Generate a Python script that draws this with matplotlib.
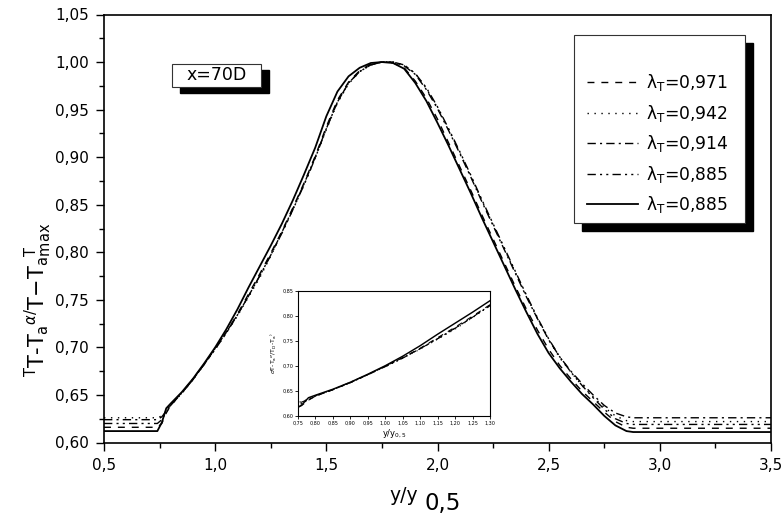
import matplotlib
matplotlib.use('Agg')
import matplotlib.pyplot as plt
from matplotlib.patches import Rectangle

plt.rcParams['font.family'] = ['DejaVu Sans']
plt.rcParams['mathtext.fontset'] = 'dejavusans'

# data
y_pos = [0.50, 0.74, 0.76, 0.78, 0.80, 0.85, 0.90, 0.95, 1.00, 1.05,
         1.10, 1.15, 1.20, 1.25, 1.30, 1.35, 1.40, 1.45, 1.50, 1.55,
         1.60, 1.65, 1.70, 1.75, 1.80, 1.85, 1.90, 1.95, 2.00, 2.05,
         2.10, 2.15, 2.20, 2.25, 2.30, 2.35, 2.40, 2.45, 2.50, 2.55,
         2.60, 2.65, 2.70, 2.75, 2.80, 2.85, 2.88, 2.92, 3.50]

t_0971 = [0.616, 0.616, 0.620, 0.631, 0.639, 0.652, 0.666, 0.682, 0.699, 0.716,
          0.735, 0.756, 0.777, 0.799, 0.822, 0.847, 0.873, 0.901, 0.932, 0.960,
          0.979, 0.991, 0.998, 1.000, 0.999, 0.994, 0.980, 0.962, 0.940, 0.915,
          0.890, 0.865, 0.839, 0.814, 0.789, 0.764, 0.740, 0.718, 0.698, 0.681,
          0.667, 0.654, 0.643, 0.632, 0.622, 0.616, 0.615, 0.615, 0.615]

t_0942 = [0.626, 0.626, 0.628, 0.633, 0.639, 0.652, 0.666, 0.682, 0.698, 0.715,
          0.733, 0.753, 0.773, 0.796, 0.820, 0.845, 0.871, 0.899, 0.929, 0.957,
          0.977, 0.990, 0.997, 1.000, 1.000, 0.997, 0.988, 0.972, 0.952, 0.929,
          0.905, 0.880, 0.854, 0.829, 0.804, 0.779, 0.754, 0.730, 0.708, 0.689,
          0.674, 0.660, 0.648, 0.637, 0.628, 0.623, 0.622, 0.622, 0.622]

t_0914 = [0.624, 0.624, 0.627, 0.633, 0.640, 0.652, 0.667, 0.682, 0.699, 0.716,
          0.734, 0.754, 0.775, 0.797, 0.821, 0.846, 0.872, 0.900, 0.930, 0.958,
          0.978, 0.990, 0.997, 1.000, 1.000, 0.996, 0.987, 0.971, 0.951, 0.928,
          0.904, 0.879, 0.853, 0.828, 0.803, 0.778, 0.753, 0.730, 0.708, 0.690,
          0.675, 0.662, 0.650, 0.639, 0.631, 0.627, 0.626, 0.626, 0.626]

t_0885a = [0.620, 0.620, 0.624, 0.632, 0.639, 0.652, 0.666, 0.682, 0.698, 0.715,
           0.734, 0.754, 0.775, 0.797, 0.820, 0.845, 0.871, 0.899, 0.930, 0.958,
           0.978, 0.990, 0.997, 1.000, 1.000, 0.997, 0.988, 0.973, 0.953, 0.930,
           0.906, 0.881, 0.855, 0.830, 0.805, 0.780, 0.755, 0.731, 0.709, 0.690,
           0.674, 0.660, 0.647, 0.635, 0.625, 0.620, 0.619, 0.619, 0.619]

t_0885b = [0.612, 0.612, 0.621, 0.636, 0.641, 0.653, 0.667, 0.683, 0.700, 0.719,
           0.740, 0.763, 0.785, 0.807, 0.830, 0.855, 0.882, 0.910, 0.943, 0.969,
           0.985, 0.994, 0.999, 1.000, 0.999, 0.993, 0.978, 0.959, 0.936, 0.912,
           0.887, 0.862, 0.836, 0.811, 0.786, 0.761, 0.737, 0.714, 0.694, 0.678,
           0.664, 0.651, 0.640, 0.628, 0.618, 0.612, 0.611, 0.611, 0.611]

series = [t_0971, t_0942, t_0914, t_0885a, t_0885b]
labels = ['λ$_\\mathrm{T}$=0,971', 'λ$_\\mathrm{T}$=0,942', 'λ$_\\mathrm{T}$=0,914',
          'λ$_\\mathrm{T}$=0,885', 'λ$_\\mathrm{T}$=0,885']
styles = [(0, (5, 5)), (0, (1, 4)), (0, (6, 3, 1.5, 3)),
          (0, (6, 3, 1.5, 3, 1.5, 3)), '-']
widths = [1.0, 1.0, 1.0, 1.0, 1.3]

x_ticks = [0.5, 1.0, 1.5, 2.0, 2.5, 3.0, 3.5]
x_ticklabels = ['0,5', '1,0', '1,5', '2,0', '2,5', '3,0', '3,5']
y_ticks = [0.60, 0.65, 0.70, 0.75, 0.80, 0.85, 0.90, 0.95, 1.00, 1.05]
y_ticklabels = ['0,60', '0,65', '0,70', '0,75', '0,80', '0,85', '0,90', '0,95', '1,00', '1,05']

in_x_ticks = [0.75, 0.80, 0.85, 0.90, 0.95, 1.00, 1.05, 1.10, 1.15, 1.20, 1.25, 1.30]
in_x_ticklabels = ['0,75', '0,80', '0,85', '0,90', '0,95', '1,00', '1,05', '1,10',
                   '1,15', '1,20', '1,25', '1,30']
in_y_ticks = [0.60, 0.65, 0.70, 0.75, 0.80, 0.85]
in_y_ticklabels = ['0,60', '0,65', '0,70', '0,75', '0,80', '0,85']

W, H = 784, 519
fig = plt.figure(figsize=(W / 100, H / 100), dpi=100)
ax = fig.add_axes([104 / W, 1 - 442.5 / H, (771 - 104) / W, (442.5 - 14.5) / H])

for ys, lab, ls, lw in zip(series, labels, styles, widths):
    ax.plot(y_pos, ys, color='black', linestyle=ls, linewidth=lw, label=lab)

ax.set_xlim(0.5, 3.5)
ax.set_ylim(0.60, 1.05)
ax.set_xticks(x_ticks)
ax.set_xticklabels(x_ticklabels)
ax.set_yticks(y_ticks)
ax.set_yticklabels(y_ticklabels)
ax.set_xticks([0.75, 1.25, 1.75, 2.25, 2.75, 3.25], minor=True)
ax.set_yticks([0.625, 0.675, 0.725, 0.775, 0.825, 0.875, 0.925, 0.975, 1.025], minor=True)
ax.tick_params(which='major', direction='out', length=6, width=1.0, labelsize=11, pad=5)
ax.tick_params(which='minor', direction='out', length=3.5, width=1.0)
for sp in ax.spines.values():
    sp.set_linewidth(1.2)

# y label (garbled as in the original)
fig.text(38 / W, 1 - 300 / H,
         r'${}^{\mathrm{T}}$T-T$_{\mathrm{a}}$$^{\alpha/}$T$-$T$_{\mathrm{a}}$$^{\mathrm{T}}_{\mathrm{max}}$',
         rotation=90, fontsize=15, ha='center', va='center')
# x label
fig.text(389 / W, 1 - 501 / H, 'y/y', fontsize=13.5, ha='left', va='baseline')
fig.text(424 / W, 1 - 510 / H, '0,5', fontsize=16.5, ha='left', va='baseline')

# legend with shadowed frame
ax.add_patch(Rectangle((582 / W, 1 - 231 / H), 171 / W, 188 / H, transform=fig.transFigure,
                       facecolor='black', edgecolor='black', clip_on=False, zorder=4))
ax.add_patch(Rectangle((574 / W, 1 - 223 / H), 171 / W, 188 / H, transform=fig.transFigure,
                       facecolor='white', edgecolor='#333333', linewidth=0.8,
                       clip_on=False, zorder=4.5))
ax.legend(loc='upper left', bbox_to_anchor=(587 / W, 1 - 72 / H), bbox_transform=fig.transFigure,
          frameon=False, fontsize=12.3, handlelength=3.0, handletextpad=0.45,
          labelspacing=0.56, borderpad=0, borderaxespad=0).set_zorder(5)

# x=70D box
ax.add_patch(Rectangle((180 / W, 1 - 93 / H), 89 / W, 23 / H, transform=fig.transFigure,
                       facecolor='black', edgecolor='black', clip_on=False, zorder=4))
ax.add_patch(Rectangle((172 / W, 1 - 87 / H), 89 / W, 23 / H, transform=fig.transFigure,
                       facecolor='white', edgecolor='#333333', linewidth=0.8,
                       clip_on=False, zorder=4.5))
fig.text(216.5 / W, 1 - 75.5 / H, 'x=70D', fontsize=12.5, ha='center', va='center')

# inset
ins = fig.add_axes([298 / W, 1 - 415.7 / H, 192 / W, 125 / H])
for ys, ls, lw in zip(series, styles, widths):
    ins.plot(y_pos, ys, color='black', linestyle=ls, linewidth=lw * 0.8)
ins.set_xlim(0.75, 1.30)
ins.set_ylim(0.60, 0.85)
ins.set_xticks(in_x_ticks)
ins.set_xticklabels(in_x_ticklabels)
ins.set_yticks(in_y_ticks)
ins.set_yticklabels(in_y_ticklabels)
ins.tick_params(direction='out', length=2, width=0.6, labelsize=3.5, pad=1.5)
for sp in ins.spines.values():
    sp.set_linewidth(0.8)
ins.set_xlabel('y/y$_{\\mathrm{0,5}}$', fontsize=6, labelpad=1)
ins.set_ylabel(r'$\sigma$T-T$_{\mathrm{a}}$$^{\sigma}$/T$_{\mathrm{D}}$-T$_{\mathrm{a}}$$^{)}$',
               fontsize=4.5, labelpad=2)

fig.savefig('out.png', dpi=100)
